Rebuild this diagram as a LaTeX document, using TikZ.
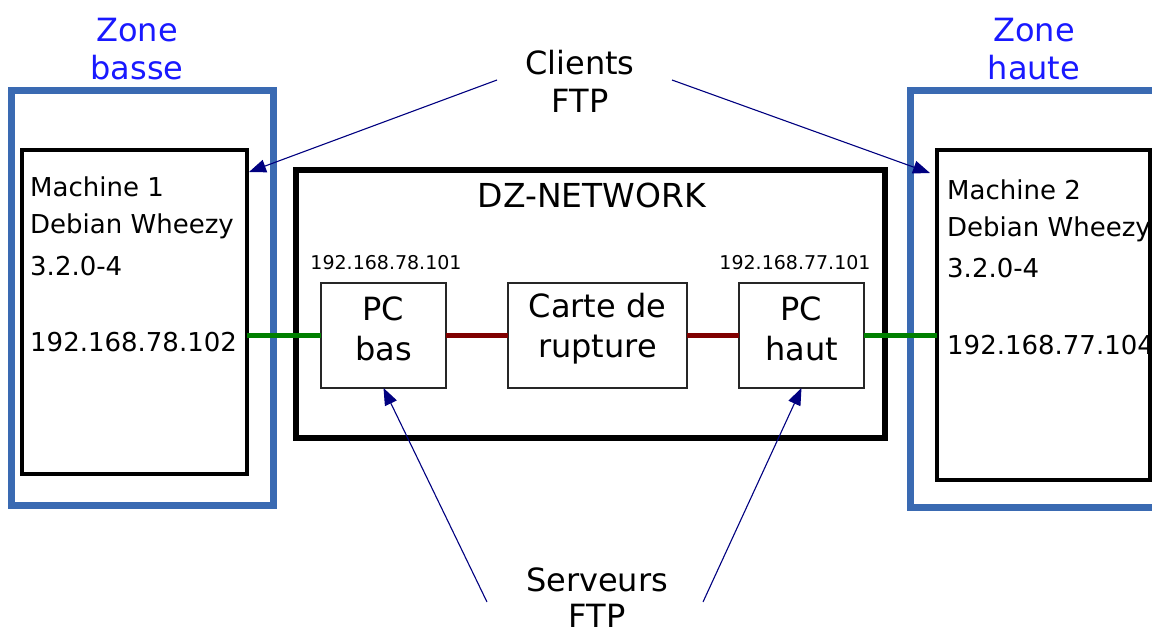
\documentclass[tikz,border=0pt]{standalone}
\usepackage{fontspec}
\setmainfont{DejaVu Sans}
\usetikzlibrary{arrows.meta,calc}
\definecolor{zoneblue}{RGB}{58,106,178}
\definecolor{zonetext}{RGB}{25,25,255}
\definecolor{arrownavy}{RGB}{0,0,128}
\definecolor{linkgreen}{RGB}{0,128,0}
\definecolor{linkred}{RGB}{128,0,0}
\begin{document}
\begin{tikzpicture}[x=1pt,y=-1pt,
  zone/.style={draw=zoneblue,line width=7pt,rectangle,inner sep=0pt,outer sep=0pt},
  machine/.style={draw=black,line width=4.5pt,rectangle,inner sep=0pt,outer sep=0pt},
  netbox/.style={draw=black,line width=5.5pt,rectangle,inner sep=0pt,outer sep=0pt},
  devbox/.style={draw=black!85,line width=1.3pt,rectangle,inner sep=0pt,outer sep=0pt,
     minimum height=105pt},
  devtext/.style={align=center,inner sep=0pt,font=\fontsize{32}{40}\selectfont},
  mtext/.style={anchor=west,inner sep=0pt,font=\fontsize{26}{30}\selectfont},
  iptext/.style={inner sep=0pt,font=\fontsize{19}{23}\selectfont},
  zonelabel/.style={align=center,text=zonetext,inner sep=0pt,font=\fontsize{32}{38}\selectfont},
  biglabel/.style={align=center,inner sep=0pt,font=\fontsize{32}{38}\selectfont},
  greenlink/.style={draw=linkgreen,line width=5pt},
  redlink/.style={draw=linkred,line width=5pt},
  pointer/.style={draw=arrownavy,line width=1.1pt,-{Triangle[length=17pt,width=13pt]}}]
\clip (0,0) rectangle (1152,635);
\fill[white] (0,0) rectangle (1152,635);

% zones
\node[zone,minimum width=262pt,minimum height=415pt] (zb) at (142,297.5) {};
\node[zone,minimum width=270pt,minimum height=417pt] (zh) at (1045,298.5) {};
\node[zonelabel] (zbl) at (137,49) {Zone\\basse};
\node[zonelabel] (zhl) at (1034,49) {Zone\\haute};

% machines
\node[machine,minimum width=225pt,minimum height=324pt] (m1) at (134.5,312) {};
\node[machine,minimum width=213pt,minimum height=330pt] (m2) at (1043.5,315) {};
\node[mtext] (m1a) at (30,187) {Machine 1};
\node[mtext] (m1b) at (30,226) {Debian Wheezy};
\node[mtext] (m1c) at (30,266) {3.2.0-4};
\node[mtext] (m1d) at (30,342) {192.168.78.102};
\node[mtext] (m2a) at (947,190) {Machine 2};
\node[mtext] (m2b) at (947,229) {Debian Wheezy};
\node[mtext] (m2c) at (947,268) {3.2.0-4};
\node[mtext] (m2d) at (947,345) {192.168.77.104};

% DZ network
\node[netbox,minimum width=589pt,minimum height=268pt] (dz) at (590.5,304) {};
\node[inner sep=0pt,font=\fontsize{33}{38}\selectfont] (dzl) at (592,195) {DZ-NETWORK};
\node[devbox,minimum width=125pt] (pcb) at (383.5,335.5) {};
\node[devbox,minimum width=179pt] (carte) at (597.5,335.5) {};
\node[devbox,minimum width=125pt] (pch) at (801.5,335.5) {};
\node[devtext] (pcbt) at (383.5,329) {PC\\bas};
\node[devtext] (cartet) at (597.5,329) {Carte de\\rupture};
\node[devtext] (pcht) at (801.5,329) {PC\\haut};
\node[iptext] (ipb) at (386,263) {192.168.78.101};
\node[iptext] (iph) at (795,263) {192.168.77.101};

% links
\draw[greenlink] (pcb.west) -- (pcb.west -| m1.east);
\draw[greenlink] (pch.east) -- (pch.east -| m2.west);
\draw[redlink] (pcb.east) -- (carte.west);
\draw[redlink] (carte.east) -- (pch.west);

% labels and pointers
\node[biglabel] (cli) at (580,81) {Clients\\FTP};
\node[biglabel,font=\fontsize{32}{36}\selectfont] (srv) at (597,598) {Serveurs\\FTP};
\coordinate (cla) at (497,80);
\coordinate (clb) at (672,80);
\coordinate (sva) at (487,602);
\coordinate (svb) at (703,602);
\coordinate (m1tip) at ($(m1.north east)+(2,22)$);
\coordinate (m2tip) at ($(m2.north west)+(-7,23)$);
\draw[pointer] (cla) -- (m1tip);
\draw[pointer] (clb) -- (m2tip);
\draw[pointer] (sva) -- (pcb.south);
\draw[pointer] (svb) -- (pch.south);
\end{tikzpicture}
\end{document}
